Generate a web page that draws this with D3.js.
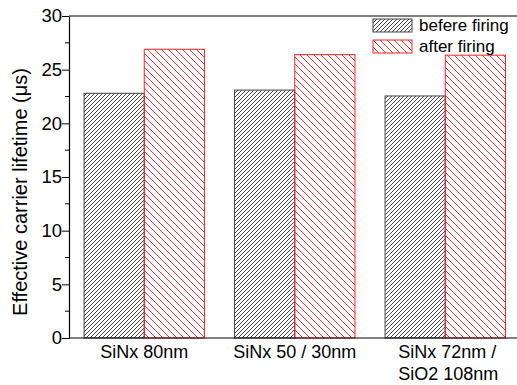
<!DOCTYPE html>
<html>
<head>
<script src="https://d3js.org/d3.v7.min.js"></script>
<style>
  body { margin: 0; background: #fff; }
  text { font-family: "Liberation Sans", Arial, sans-serif; }
</style>
</head>
<body>
<div id="chart"></div>
<script>
// data
var categories = ["SiNx 80nm", "SiNx 50 / 30nm", "SiNx 72nm /\nSiO2 108nm"];
var beforeFiring = [22.8, 23.1, 22.55];
var afterFiring = [26.9, 26.4, 26.35];
var seriesNames = ["befere firing", "after firing"];
var yTicks = [0, 5, 10, 15, 20, 25, 30];

var width = 517, height = 385;
var margin = {top: 16, left: 69, bottom: 47};
var plotRight = 520.5;

var svg = d3.select("#chart").append("svg")
  .attr("width", width)
  .attr("height", height);

var defs = svg.append("defs");
// black "/" hatch
var p1 = defs.append("pattern")
  .attr("id", "hatchBlack")
  .attr("patternUnits", "userSpaceOnUse")
  .attr("width", 4).attr("height", 4);
p1.append("path")
  .attr("d", "M-1,1 l2,-2 M0,4 l4,-4 M3,5 l2,-2")
  .attr("stroke", "#333").attr("stroke-width", 0.9);
// red "\" hatch
var p2 = defs.append("pattern")
  .attr("id", "hatchRed")
  .attr("patternUnits", "userSpaceOnUse")
  .attr("width", 7).attr("height", 7);
p2.append("path")
  .attr("d", "M-1,6 l2,2 M0,0 l7,7 M6,-1 l2,2")
  .attr("stroke", "#ff2020").attr("stroke-width", 0.9);

var x = d3.scaleBand()
  .domain(categories)
  .range([margin.left, plotRight])
  .paddingInner(0).paddingOuter(0);

var y = d3.scaleLinear()
  .domain([0, 30])
  .range([height - margin.bottom, margin.top]);

var barW = x.bandwidth() * 0.4;

// bars
var g = svg.append("g");
g.selectAll(".before")
  .data(beforeFiring)
  .enter().append("rect")
  .attr("x", function(d, i) { return x(categories[i]) + x.bandwidth() / 2 - barW; })
  .attr("y", function(d) { return y(d); })
  .attr("width", barW)
  .attr("height", function(d) { return y(0) - y(d); })
  .attr("fill", "url(#hatchBlack)")
  .attr("stroke", "#444").attr("stroke-width", 1);

g.selectAll(".after")
  .data(afterFiring)
  .enter().append("rect")
  .attr("x", function(d, i) { return x(categories[i]) + x.bandwidth() / 2; })
  .attr("y", function(d) { return y(d); })
  .attr("width", barW)
  .attr("height", function(d) { return y(0) - y(d); })
  .attr("fill", "url(#hatchRed)")
  .attr("stroke", "#ff2020").attr("stroke-width", 1);

// frame
svg.append("line")
  .attr("x1", margin.left).attr("x2", width)
  .attr("y1", y(30)).attr("y2", y(30))
  .attr("stroke", "#000").attr("stroke-width", 1.2);

// y axis
var yAxis = svg.append("g")
  .attr("transform", "translate(" + margin.left + ",0)")
  .call(d3.axisLeft(y).tickValues(yTicks).tickSize(7).tickPadding(0).tickSizeOuter(0));
yAxis.select(".domain").attr("stroke-width", 1.2);
yAxis.selectAll(".tick text").attr("font-size", 18.5).attr("fill", "#000");
// minor ticks
svg.append("g")
  .attr("transform", "translate(" + margin.left + ",0)")
  .selectAll("line")
  .data(d3.range(2.5, 30, 5))
  .enter().append("line")
  .attr("x1", -4).attr("x2", 0)
  .attr("y1", function(d) { return y(d); })
  .attr("y2", function(d) { return y(d); })
  .attr("stroke", "#000");

// x axis
svg.append("line")
  .attr("x1", margin.left).attr("x2", width)
  .attr("y1", y(0)).attr("y2", y(0))
  .attr("stroke", "#000").attr("stroke-width", 1.2);

svg.append("g").selectAll("text")
  .data(categories)
  .enter().append("text")
  .attr("y", y(0) + 20)
  .attr("font-size", 18)
  .each(function(d) {
    var lines = d.split("\n");
    var t = d3.select(this);
    var cx = x(d) + x.bandwidth() / 2;
    lines.forEach(function(l, k) {
      t.append("tspan")
        .attr("x", lines.length > 1 ? cx - 47 : cx)
        .attr("dy", k === 0 ? 0 : 22)
        .attr("text-anchor", lines.length > 1 ? "start" : "middle")
        .text(l);
    });
  });

// y label
svg.append("text")
  .attr("transform", "translate(27," + ((y(0) + y(30)) / 2 + 15) + ") rotate(-90)")
  .attr("text-anchor", "middle")
  .attr("font-size", 20)
  .text("Effective carrier lifetime (\u03bcs)");

// legend
var legend = svg.append("g").attr("transform", "translate(373,19)");
var fills = ["url(#hatchBlack)", "url(#hatchRed)"];
var strokes = ["#444", "#ff2020"];
seriesNames.forEach(function(name, i) {
  legend.append("rect")
    .attr("x", 0).attr("y", i * 21)
    .attr("width", 39).attr("height", 13)
    .attr("fill", fills[i]).attr("stroke", strokes[i]);
  legend.append("text")
    .attr("x", 46).attr("y", i * 21 + 12)
    .attr("font-size", 17)
    .text(name);
});
</script>
</body>
</html>
